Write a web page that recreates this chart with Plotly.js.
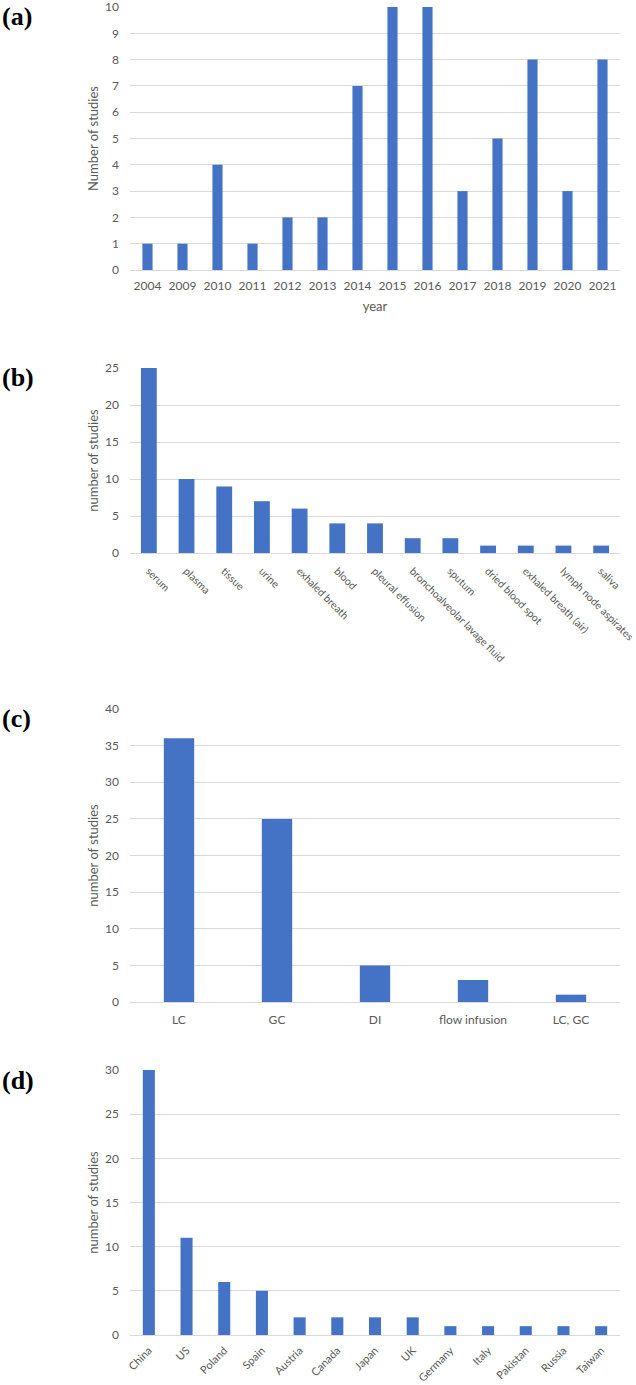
<!DOCTYPE html>
<html>
<head>
<meta charset="utf-8">
<script src="https://cdn.plot.ly/plotly-3.0.1.min.js"></script>
<style>html,body{margin:0;padding:0;background:#fff;}#chart{width:636px;height:1385px;}</style>
</head>
<body>
<div id="chart"></div>
<script>
// (a) studies per year
const years = ["2004","2009","2010","2011","2012","2013","2014","2015","2016","2017","2018","2019","2020","2021"];
const yearCounts = [1,1,4,1,2,2,7,10,10,3,5,8,3,8];

// (b) sample types
const sampleTypes = ["serum","plasma","tissue","urine","exhaled breath","blood","pleural effusion","bronchoalveolar lavage fluid","sputum","dried blood spot","exhaled breath (air)","lymph node aspirates","saliva"];
const sampleCounts = [25,10,9,7,6,4,4,2,2,1,1,1,1];

// (c) analytical platforms
const platforms = ["LC","GC","DI","flow infusion","LC, GC"];
const platformCounts = [36,25,5,3,1];

// (d) countries
const countries = ["China","US","Poland","Spain","Austria","Canada","Japan","UK","Germany","Italy","Pakistan","Russia","Taiwan"];
const countryCounts = [30,11,6,5,2,2,2,2,1,1,1,1,1];

const BLUE = "#4472C4";
const GRID = "#d9d9d9";
const TXT = "#595959";
const FONT = "Lato, 'Open Sans', sans-serif";
const TICK = 12, TITLE = 13;
const H = 1385, W = 636;
const xd = [130/W, 620/W];
function yd(top, bottom){ return [1 - bottom/H, 1 - top/H]; }

const traces = [
  {type:"bar", x:years, y:yearCounts, xaxis:"x", yaxis:"y", marker:{color:BLUE}, width:0.29},
  {type:"bar", x:sampleTypes, y:sampleCounts, xaxis:"x2", yaxis:"y2", marker:{color:BLUE}, width:0.42},
  {type:"bar", x:platforms, y:platformCounts, xaxis:"x3", yaxis:"y3", marker:{color:BLUE}, width:0.31},
  {type:"bar", x:countries, y:countryCounts, xaxis:"x4", yaxis:"y4", marker:{color:BLUE}, width:0.32}
];

function xax(anchor, extra){
  return Object.assign({
    domain: xd, anchor: anchor, type:"category", showgrid:false, zeroline:false,
    showline:false, ticks:"", ticklabelstandoff:7, ticklabeloverflow:"allow",
    tickfont:{family:FONT, size:TICK, color:TXT}, fixedrange:true
  }, extra||{});
}
function yax(anchor, dom, range, dtick, title){
  return {
    domain: dom, anchor: anchor, range: range, dtick: dtick, tick0:0,
    showgrid:true, gridcolor:GRID, gridwidth:1, zeroline:true, zerolinecolor:GRID, zerolinewidth:1,
    showline:false, ticks:"", ticklabelstandoff:10, ticklabeloverflow:"allow",
    tickfont:{family:FONT, size:TICK, color:TXT},
    title:{text:title, font:{family:FONT, size:TITLE, color:TXT}, standoff:3},
    fixedrange:true
  };
}

const layout = {
  width: W, height: H,
  margin:{l:0, r:0, t:0, b:0},
  paper_bgcolor:"#fff", plot_bgcolor:"#fff",
  showlegend:false,
  font:{family:FONT, color:TXT},
  xaxis: xax("y", {title:{text:"year", font:{family:FONT, size:TITLE, color:TXT}, standoff:9}}),
  yaxis: yax("x", yd(7,270), [0,10], 1, "Number of studies"),
  xaxis2: xax("y2", {tickangle:45, ticklabelstandoff:9, tickfont:{family:FONT, size:10.5, color:TXT}}),
  yaxis2: yax("x2", yd(368,553), [0,25], 5, "number of studies"),
  xaxis3: xax("y3", {ticklabelstandoff:9}),
  yaxis3: yax("x3", yd(709,1002), [0,40], 5, "number of studies"),
  xaxis4: xax("y4", {tickangle:-45, ticklabelstandoff:6, tickfont:{family:FONT, size:11, color:TXT}}),
  yaxis4: yax("x4", yd(1070,1335), [0,30], 5, "number of studies"),
  annotations: [
    {text:"<b>(a)</b>", x:0, y:1-16/H},
    {text:"<b>(b)</b>", x:0, y:1-377/H},
    {text:"<b>(c)</b>", x:0, y:1-718/H},
    {text:"<b>(d)</b>", x:0, y:1-1080/H}
  ].map(a => Object.assign({xref:"paper", yref:"paper", xanchor:"left", yanchor:"middle", showarrow:false,
      font:{family:"'Liberation Serif', 'Times New Roman', serif", size:26, color:"#000"}}, a))
};

Plotly.newPlot("chart", traces, layout, {displayModeBar:false, staticPlot:true});
</script>
</body>
</html>
